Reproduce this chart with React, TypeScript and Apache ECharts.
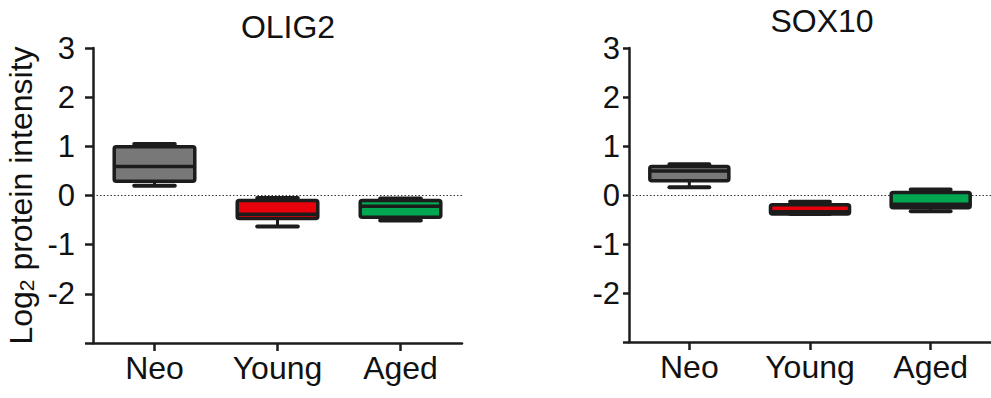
import React, { useEffect, useRef } from "react";
import * as echarts from "echarts";

const categories = ["Neo", "Young", "Aged"];
const groupColors = ["#787878", "#e8000b", "#00a650"];
const yTickMin = -3;
const yTickMax = 3;
const yTickStep = 1;

// OLIG2 box statistics (per category)
const olig2Min = [0.2, -0.63, -0.51];
const olig2Q1 = [0.29, -0.47, -0.44];
const olig2Median = [0.59, -0.38, -0.22];
const olig2Q3 = [0.99, -0.1, -0.1];
const olig2Max = [1.05, -0.05, -0.06];

// SOX10 box statistics (per category)
const sox10Min = [0.16, -0.39, -0.33];
const sox10Q1 = [0.29, -0.39, -0.26];
const sox10Median = [0.49, -0.34, -0.19];
const sox10Q3 = [0.58, -0.2, 0.05];
const sox10Max = [0.63, -0.14, 0.11];

const FONT = "'Liberation Sans', Arial, Helvetica, sans-serif";
const INK = "#1c1c1c";

function buildRows(mins: number[], q1s: number[], meds: number[], q3s: number[], maxs: number[]) {
  return categories.map((_, i) => [i, mins[i], q1s[i], meds[i], q3s[i], maxs[i]]);
}

function renderBox(params: any, api: any) {
  const idx = api.value(0);
  const vMin = api.value(1);
  const vQ1 = api.value(2);
  const vMed = api.value(3);
  const vQ3 = api.value(4);
  const vMax = api.value(5);
  const band = api.size([1, 0])[0];
  const cx = api.coord([idx, 0])[0];
  const yMin = api.coord([idx, vMin])[1];
  const yQ1 = api.coord([idx, vQ1])[1];
  const yMed = api.coord([idx, vMed])[1];
  const yQ3 = api.coord([idx, vQ3])[1];
  const yMax = api.coord([idx, vMax])[1];
  const bw = band * 0.655;
  const cw = band * 0.33;
  const color = groupColors[params.dataIndex];
  return {
    type: "group",
    children: [
      { type: "line", shape: { x1: cx, y1: yMax, x2: cx, y2: yQ3 }, style: { stroke: INK, lineWidth: 3 } },
      { type: "line", shape: { x1: cx, y1: yQ1, x2: cx, y2: yMin }, style: { stroke: INK, lineWidth: 3 } },
      { type: "line", shape: { x1: cx - cw / 2, y1: yMax, x2: cx + cw / 2, y2: yMax }, style: { stroke: INK, lineWidth: 4, lineCap: "round" } },
      { type: "line", shape: { x1: cx - cw / 2, y1: yMin, x2: cx + cw / 2, y2: yMin }, style: { stroke: INK, lineWidth: 4, lineCap: "round" } },
      {
        type: "rect",
        shape: { x: cx - bw / 2, y: yQ3, width: bw, height: yQ1 - yQ3, r: 2 },
        style: { fill: color, stroke: INK, lineWidth: 3.5 },
      },
      { type: "line", shape: { x1: cx - bw / 2, y1: yMed, x2: cx + bw / 2, y2: yMed }, style: { stroke: INK, lineWidth: 3.5 } },
    ],
  };
}

function makeXAxis(gridIndex: number) {
  return {
    type: "category",
    gridIndex,
    data: categories,
    boundaryGap: true,
    axisLine: { show: true, onZero: false, lineStyle: { color: INK, width: 2.5 } },
    axisTick: { show: true, alignWithLabel: true, length: 8, lineStyle: { color: INK, width: 2.5 } },
    axisLabel: { color: "#111", fontSize: 32, fontFamily: FONT, margin: 9 },
    splitLine: { show: false },
  };
}

function makeYAxis(gridIndex: number, margin: number, tickLen: number, withName: boolean) {
  const axis: any = {
    type: "value",
    gridIndex,
    min: yTickMin,
    max: yTickMax,
    interval: yTickStep,
    axisLine: { show: true, lineStyle: { color: INK, width: 2.5 } },
    axisTick: { show: true, length: tickLen, lineStyle: { color: INK, width: 2.5 } },
    axisLabel: {
      color: "#111",
      fontSize: 31,
      fontFamily: FONT,
      margin,
      formatter: (v: number) => (v === yTickMin ? "" : String(v)),
    },
    splitLine: { show: false },
  };
  if (withName) {
    axis.name = "Log{sub|2} protein intensity";
    axis.nameLocation = "middle";
    axis.nameGap = 56;
    axis.nameTextStyle = {
      color: "#111",
      fontSize: 32,
      fontFamily: FONT,
      rich: {
        sub: { fontSize: 21, fontFamily: FONT, color: "#111", padding: [12, 0, 0, 0] },
      },
    };
  }
  return axis;
}

function zeroLine() {
  return {
    silent: true,
    symbol: ["none", "none"],
    label: { show: false },
    lineStyle: { type: [1.5, 2], color: "#333", width: 1.2 },
    data: [{ yAxis: 0 }],
    z: 1,
  };
}

export default function App() {
  const ref = useRef<HTMLDivElement>(null);
  useEffect(() => {
    if (!ref.current) return;
    const chart = echarts.init(ref.current, undefined, { renderer: "svg" });
    chart.setOption({
      animation: false,
      backgroundColor: "#ffffff",
      title: [
        {
          text: "OLIG2",
          left: 283,
          top: 6,
          textAlign: "center",
          textStyle: { color: "#111", fontSize: 32, fontWeight: "normal", fontFamily: FONT },
        },
        {
          text: "SOX10",
          left: 817,
          top: 0,
          textAlign: "center",
          textStyle: { color: "#111", fontSize: 32, fontWeight: "normal", fontFamily: FONT },
        },
      ],
      grid: [
        { left: 93, top: 48, width: 369, height: 295, containLabel: false },
        { left: 629, top: 48, width: 369, height: 294, containLabel: false },
      ],
      xAxis: [makeXAxis(0), makeXAxis(1)],
      yAxis: [makeYAxis(0, 18, 8, true), makeYAxis(1, 9, 6, false)],
      series: [
        {
          type: "custom",
          name: "OLIG2",
          xAxisIndex: 0,
          yAxisIndex: 0,
          z: 10,
          renderItem: renderBox,
          encode: { x: 0, y: [1, 2, 3, 4, 5] },
          data: buildRows(olig2Min, olig2Q1, olig2Median, olig2Q3, olig2Max),
          markLine: zeroLine(),
        },
        {
          type: "custom",
          name: "SOX10",
          xAxisIndex: 1,
          yAxisIndex: 1,
          z: 10,
          renderItem: renderBox,
          encode: { x: 0, y: [1, 2, 3, 4, 5] },
          data: buildRows(sox10Min, sox10Q1, sox10Median, sox10Q3, sox10Max),
          markLine: zeroLine(),
        },
      ],
    });
    return () => chart.dispose();
  }, []);
  return (
    <div
      ref={ref}
      style={{ position: "absolute", left: 0, top: 0, width: 991, height: 398 }}
    />
  );
}
